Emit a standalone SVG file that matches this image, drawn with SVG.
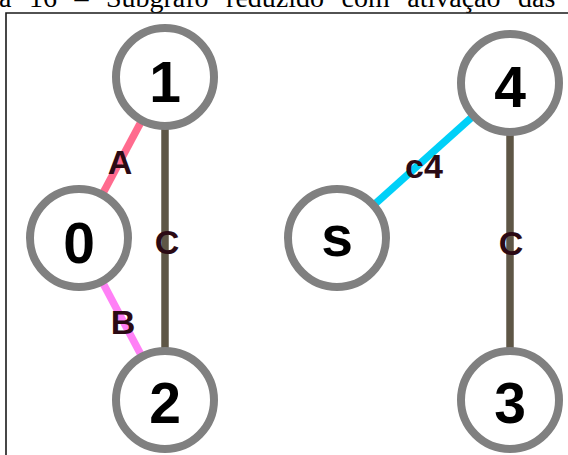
<svg xmlns="http://www.w3.org/2000/svg" width="568" height="455" viewBox="0 0 568 455">
  <style>
    .caption { font-family: "Liberation Serif", "Times New Roman", serif; font-size: 28px; fill: #000; word-spacing: 10.5px; }
    .frame { stroke: #1a1a1a; stroke-width: 1.6; fill: none; }
    .node circle { fill: #fff; stroke: #808080; stroke-width: 8; }
    .node text { font-family: "Liberation Sans", Arial, sans-serif; font-weight: bold; font-size: 57px; fill: #000; text-anchor: middle; }
    .edge { stroke-width: 7.5; fill: none; }
    .elabel { font-family: "Liberation Sans", Arial, sans-serif; font-weight: bold; font-size: 34px; fill: #2b0a14; text-anchor: middle; }
  </style>
  <rect width="568" height="455" fill="#fff"/>

  <!-- caption line running above the frame -->
  <text class="caption" x="-1" y="7">a 16 – Subgrafo reduzido com ativação das</text>

  <!-- frame -->
  <path class="frame" d="M6,455 V13 H568"/>

  <!-- connectors -->
  <g id="edges">
    <line class="edge" x1="79" y1="238" x2="165" y2="77" stroke="#ff6b8e"/>
    <line class="edge" x1="79" y1="238" x2="165" y2="400" stroke="#ff80f6"/>
    <line class="edge" x1="165" y1="77" x2="165" y2="400" stroke="#5e5646"/>
    <line class="edge" x1="337" y1="238" x2="510" y2="83" stroke="#00d0f8"/>
    <line class="edge" x1="510" y1="83" x2="510" y2="400" stroke="#5e5646"/>
    <text class="elabel" x="120" y="174">A</text>
    <text class="elabel" x="123" y="334">B</text>
    <text class="elabel" x="167" y="254">C</text>
    <text class="elabel" x="424" y="178">c4</text>
    <text class="elabel" x="511" y="255">C</text>
  </g>

  <!-- nodes -->
  <g id="node-1" class="node">
    <circle cx="165" cy="77" r="49"/>
    <text x="165" y="102">1</text>
  </g>
  <g id="node-0" class="node">
    <circle cx="79" cy="238" r="49"/>
    <text x="79" y="263">0</text>
  </g>
  <g id="node-2" class="node">
    <circle cx="165" cy="400" r="49"/>
    <text x="165" y="423">2</text>
  </g>
  <g id="node-4" class="node">
    <circle cx="510" cy="83" r="49"/>
    <text x="510" y="107">4</text>
  </g>
  <g id="node-s" class="node">
    <circle cx="337" cy="238" r="49"/>
    <text x="337" y="256">s</text>
  </g>
  <g id="node-3" class="node">
    <circle cx="510" cy="400" r="49"/>
    <text x="510" y="423">3</text>
  </g>
</svg>
